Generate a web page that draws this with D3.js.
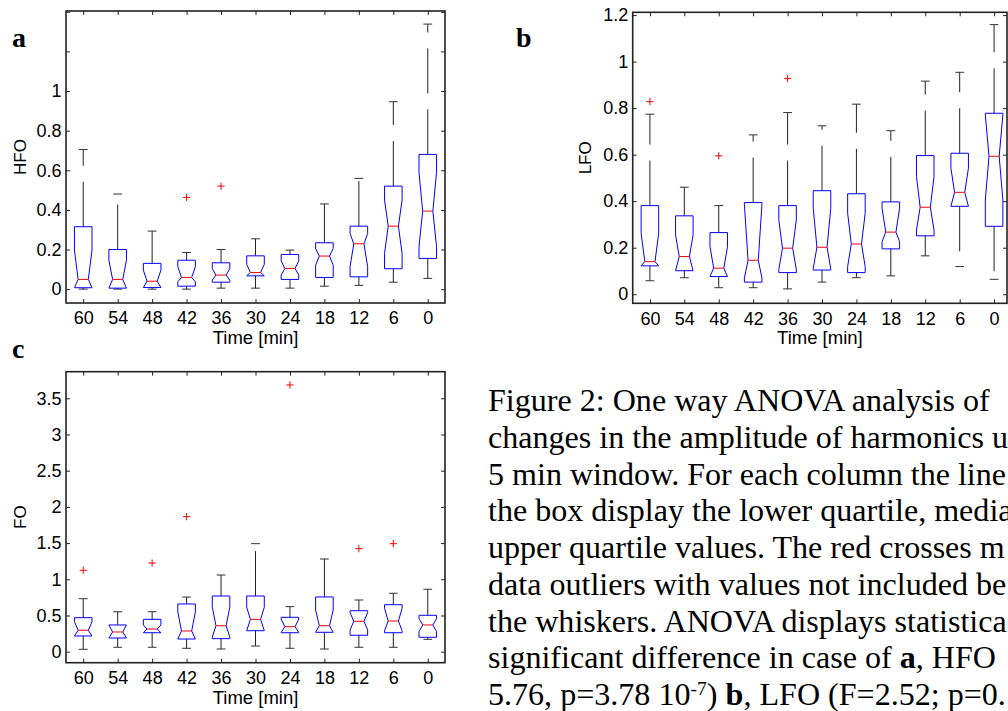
<!DOCTYPE html>
<html>
<head>
<meta charset="utf-8">
<script src="https://cdn.jsdelivr.net/npm/d3@7"></script>
<style>
  html, body { margin: 0; padding: 0; background: #fff; }
  svg { display: block; }
</style>
</head>
<body>
<svg id="chart" width="1008" height="711"></svg>
<script>
// ---------------- DATA ----------------
const categories = ["60", "54", "48", "42", "36", "30", "24", "18", "12", "6", "0"];

// Panel a: HFO
const hfoLower   = [0.000, 0.000, 0.000, 0.000, 0.005, 0.005, 0.005, 0.015, 0.019, 0.035, 0.054];
const hfoQ1      = [0.007, 0.005, 0.008, 0.015, 0.035, 0.067, 0.049, 0.059, 0.062, 0.103, 0.155];
const hfoMedian  = [0.049, 0.049, 0.040, 0.059, 0.071, 0.084, 0.104, 0.167, 0.229, 0.318, 0.394];
const hfoQ3      = [0.315, 0.200, 0.130, 0.146, 0.133, 0.168, 0.175, 0.234, 0.318, 0.520, 0.680];
const hfoUpper   = [0.705, 0.480, 0.293, 0.185, 0.200, 0.254, 0.197, 0.430, 0.559, 0.946, 1.338];
const hfoNotchLo = [0.007, 0.005, 0.008, 0.037, 0.045, 0.067, 0.071, 0.121, 0.113, 0.180, 0.214];
const hfoNotchHi = [0.197, 0.146, 0.096, 0.113, 0.104, 0.125, 0.143, 0.205, 0.281, 0.450, 0.590];
const hfoOutliers = [[], [], [], [0.463], [0.520], [], [], [], [], [], []];
const hfoTicks = [0, 0.2, 0.4, 0.6, 0.8, 1, 1.2, 1.4];
const hfoTickLabels = [0, 0.2, 0.4, 0.6, 0.8, 1];
const hfoDomain = [-0.07, 1.404];

// Panel b: LFO
const lfoLower   = [0.058, 0.071, 0.028, 0.028, 0.023, 0.052, 0.071, 0.079, 0.165, 0.119, 0.064];
const lfoQ1      = [0.122, 0.101, 0.076, 0.052, 0.093, 0.104, 0.093, 0.195, 0.251, 0.378, 0.292];
const lfoMedian  = [0.140, 0.162, 0.112, 0.146, 0.198, 0.202, 0.216, 0.267, 0.374, 0.438, 0.593];
const lfoQ3      = [0.381, 0.337, 0.265, 0.394, 0.381, 0.445, 0.432, 0.397, 0.596, 0.606, 0.778];
const lfoUpper   = [0.774, 0.460, 0.381, 0.685, 0.781, 0.724, 0.817, 0.703, 0.916, 0.954, 1.159];
const lfoNotchLo = [0.122, 0.101, 0.076, 0.070, 0.105, 0.110, 0.119, 0.226, 0.276, 0.378, 0.405];
const lfoNotchHi = [0.262, 0.255, 0.205, 0.385, 0.320, 0.370, 0.348, 0.370, 0.506, 0.542, 0.770];
const lfoOutliers = [[0.828], [], [0.595], [], [0.927], [], [], [], [], [], []];
const lfoTicks = [0, 0.2, 0.4, 0.6, 0.8, 1, 1.2];
const lfoTickLabels = [0, 0.2, 0.4, 0.6, 0.8, 1, 1.2];
const lfoDomain = [-0.039, 1.212];

// Panel c: FO
const foLower   = [0.033, 0.061, 0.061, 0.047, 0.037, 0.079, 0.047, 0.037, 0.061, 0.061, 0.171];
const foQ1      = [0.217, 0.189, 0.262, 0.175, 0.180, 0.290, 0.262, 0.268, 0.227, 0.262, 0.199];
const foMedian  = [0.296, 0.272, 0.313, 0.286, 0.359, 0.447, 0.345, 0.359, 0.420, 0.424, 0.369];
const foQ3      = [0.470, 0.369, 0.447, 0.659, 0.769, 0.769, 0.475, 0.756, 0.566, 0.649, 0.503];
const foUpper   = [0.732, 0.552, 0.552, 0.755, 1.059, 1.492, 0.622, 1.280, 0.714, 0.807, 0.862];
const foNotchLo = [0.217, 0.189, 0.262, 0.175, 0.200, 0.290, 0.265, 0.268, 0.300, 0.290, 0.276];
const foNotchHi = [0.414, 0.369, 0.369, 0.550, 0.620, 0.613, 0.450, 0.576, 0.540, 0.600, 0.460];
const foOutliers = [[1.124], [], [1.225], [1.865], [], [], [3.684], [], [1.423], [1.492], []];
const foTicks = [0, 0.5, 1, 1.5, 2, 2.5, 3, 3.5];
const foTickLabels = [0, 0.5, 1, 1.5, 2, 2.5, 3, 3.5];
const foDomain = [-0.152, 3.867];

const xLabel = "Time [min]";

const captionLines = [
  [{t: "Figure 2: One way ANOVA analysis of"}],
  [{t: "changes in the amplitude of harmonics u"}],
  [{t: "5 min window. For each column the line"}],
  [{t: "the box display the lower quartile, media"}],
  [{t: "upper quartile values. The red crosses m"}],
  [{t: "data outliers with values not included be"}],
  [{t: "the whiskers. ANOVA displays statistica"}],
  [{t: "significant difference in case of "}, {t: "a", b: true}, {t: ", HFO"}],
  [{t: "5.76, p=3.78 10"}, {t: "-7", sup: true}, {t: ") "}, {t: "b", b: true}, {t: ", LFO (F=2.52; p=0."}]
];

// ---------------- DRAWING ----------------
const svg = d3.select("#chart");
svg.append("rect").attr("width", 1008).attr("height", 711).attr("fill", "#fff");

const SANS = "'Liberation Sans', Arial, Helvetica, sans-serif";
const SERIF = "'Liberation Serif', 'Times New Roman', serif";

function fmt(v) { return String(+v.toFixed(2)); }

function drawPanel(cfg) {
  const g = svg.append("g");
  const x = d3.scalePoint().domain(categories).range([cfg.left, cfg.rangeRight]).padding(0.5);
  const step = x.step();
  const y = d3.scaleLinear().domain(cfg.domain).range([cfg.bottom, cfg.top]);
  const w = step * 0.255;       // box half-width
  const wn = w * 0.58;          // notch half-width
  const cw = w * 0.5;           // cap half-width

  const rows = categories.map((c, i) => ({
    c, lo: cfg.lower[i], q1: cfg.q1[i], med: cfg.med[i], q3: cfg.q3[i], hi: cfg.upper[i],
    nlo: cfg.nlo[i], nhi: cfg.nhi[i], out: cfg.out[i]
  }));

  // whiskers (dashed, starting at the box)
  g.selectAll(".wu").data(rows).join("line")
    .attr("x1", d => x(d.c)).attr("x2", d => x(d.c))
    .attr("y1", d => y(d.q3)).attr("y2", d => y(d.hi))
    .attr("stroke", "#222").attr("stroke-width", 1).attr("stroke-dasharray", "45,16");
  g.selectAll(".wl").data(rows).join("line")
    .attr("x1", d => x(d.c)).attr("x2", d => x(d.c))
    .attr("y1", d => y(d.q1)).attr("y2", d => y(d.lo))
    .attr("stroke", "#222").attr("stroke-width", 1).attr("stroke-dasharray", "45,16");
  // caps
  g.selectAll(".cu").data(rows).join("line")
    .attr("x1", d => x(d.c) - cw).attr("x2", d => x(d.c) + cw)
    .attr("y1", d => y(d.hi)).attr("y2", d => y(d.hi))
    .attr("stroke", "#333").attr("stroke-width", 1);
  g.selectAll(".cl").data(rows).join("line")
    .attr("x1", d => x(d.c) - cw).attr("x2", d => x(d.c) + cw)
    .attr("y1", d => y(d.lo)).attr("y2", d => y(d.lo))
    .attr("stroke", "#333").attr("stroke-width", 1);

  // notched boxes
  g.selectAll(".box").data(rows).join("path")
    .attr("d", d => {
      const xc = x(d.c);
      const pts = [
        [xc - w, y(d.q1)], [xc - w, y(d.nlo)], [xc - wn, y(d.med)], [xc - w, y(d.nhi)], [xc - w, y(d.q3)],
        [xc + w, y(d.q3)], [xc + w, y(d.nhi)], [xc + wn, y(d.med)], [xc + w, y(d.nlo)], [xc + w, y(d.q1)]
      ];
      return d3.line()(pts) + "Z";
    })
    .attr("fill", "none").attr("stroke", "#0000ff").attr("stroke-width", 1);

  // medians
  g.selectAll(".med").data(rows).join("line")
    .attr("x1", d => x(d.c) - wn).attr("x2", d => x(d.c) + wn)
    .attr("y1", d => y(d.med)).attr("y2", d => y(d.med))
    .attr("stroke", "#ff0000").attr("stroke-width", 1);

  // outliers
  const outs = rows.flatMap(d => d.out.map(v => ({c: d.c, v})));
  const ms = 3.6;
  g.selectAll(".out").data(outs).join("path")
    .attr("d", d => {
      const px = x(d.c), py = y(d.v);
      return `M${px - ms},${py}H${px + ms}M${px},${py - ms}V${py + ms}`;
    })
    .attr("fill", "none").attr("stroke", "#ff0000").attr("stroke-width", 1);

  // axes (inward ticks, MATLAB style box)
  const bottomAx = g.append("g").attr("transform", `translate(0,${cfg.bottom})`)
    .call(d3.axisBottom(x).tickSizeInner(-4).tickSizeOuter(0).tickPadding(8.5));
  const topAx = g.append("g").attr("transform", `translate(0,${cfg.top})`)
    .call(d3.axisTop(x).tickSizeInner(-4).tickSizeOuter(0).tickFormat(""));
  const leftAx = g.append("g").attr("transform", `translate(${cfg.left},0)`)
    .call(d3.axisLeft(y).tickValues(cfg.ticks).tickSizeInner(-4).tickSizeOuter(0).tickPadding(4.5)
      .tickFormat(v => cfg.tickLabels.some(t => Math.abs(t - v) < 1e-9) ? fmt(v) : ""));
  const rightAx = g.append("g").attr("transform", `translate(${cfg.right},0)`)
    .call(d3.axisRight(y).tickValues(cfg.ticks).tickSizeInner(-4).tickSizeOuter(0).tickFormat(""));

  [bottomAx, topAx, leftAx, rightAx].forEach(a => {
    a.select(".domain").remove();
    a.selectAll(".tick line").attr("stroke", "#222").attr("stroke-width", 1);
    a.selectAll("text").attr("font-family", SANS).attr("font-size", 18).attr("fill", "#000");
  });

  // frame
  g.append("rect")
    .attr("x", cfg.left).attr("y", cfg.top)
    .attr("width", cfg.right - cfg.left).attr("height", cfg.bottom - cfg.top)
    .attr("fill", "none").attr("stroke", "#222").attr("stroke-width", 1.6);

  // axis labels
  g.append("text")
    .attr("x", (cfg.left + cfg.right) / 2).attr("y", cfg.bottom + 41)
    .attr("text-anchor", "middle").attr("font-family", SANS).attr("font-size", 18.5).attr("fill", "#000")
    .text(xLabel);
  g.append("text")
    .attr("transform", `translate(${cfg.ylabelX},${(cfg.top + cfg.bottom) / 2}) rotate(-90)`)
    .attr("text-anchor", "middle").attr("dy", "0.35em")
    .attr("font-family", SANS).attr("font-size", 17).attr("fill", "#000")
    .text(cfg.ylabel);

  // panel letter
  g.append("text")
    .attr("x", cfg.letterX).attr("y", cfg.letterY)
    .attr("font-family", SERIF).attr("font-weight", "bold").attr("font-size", 28).attr("fill", "#000")
    .text(cfg.letter);
}

drawPanel({
  left: 66, right: 445, rangeRight: 445, top: 11, bottom: 303,
  domain: hfoDomain, ticks: hfoTicks, tickLabels: hfoTickLabels,
  lower: hfoLower, q1: hfoQ1, med: hfoMedian, q3: hfoQ3, upper: hfoUpper,
  nlo: hfoNotchLo, nhi: hfoNotchHi, out: hfoOutliers,
  ylabel: "HFO", ylabelX: 20, letter: "a", letterX: 12, letterY: 47
});

drawPanel({
  left: 632.7, right: 1007, rangeRight: 1011.3, top: 12.3, bottom: 303.3,
  domain: lfoDomain, ticks: lfoTicks, tickLabels: lfoTickLabels,
  lower: lfoLower, q1: lfoQ1, med: lfoMedian, q3: lfoQ3, upper: lfoUpper,
  nlo: lfoNotchLo, nhi: lfoNotchHi, out: lfoOutliers,
  ylabel: "LFO", ylabelX: 585, letter: "b", letterX: 516, letterY: 47
});

drawPanel({
  left: 66, right: 445, rangeRight: 445, top: 371.7, bottom: 662.7,
  domain: foDomain, ticks: foTicks, tickLabels: foTickLabels,
  lower: foLower, q1: foQ1, med: foMedian, q3: foQ3, upper: foUpper,
  nlo: foNotchLo, nhi: foNotchHi, out: foOutliers,
  ylabel: "FO", ylabelX: 20, letter: "c", letterX: 12, letterY: 358
});

// caption
const cap = svg.append("g");
captionLines.forEach((parts, i) => {
  const t = cap.append("text")
    .attr("transform", `translate(488,${411 + i * 36.75}) scale(1.035,1)`)
    .attr("font-family", SERIF).attr("font-size", 31).attr("fill", "#000");
  parts.forEach(p => {
    const s = t.append("tspan").text(p.t);
    if (p.b) s.attr("font-weight", "bold");
    if (p.sup) s.attr("font-size", 19).attr("baseline-shift", "super");
  });
});
</script>
</body>
</html>
